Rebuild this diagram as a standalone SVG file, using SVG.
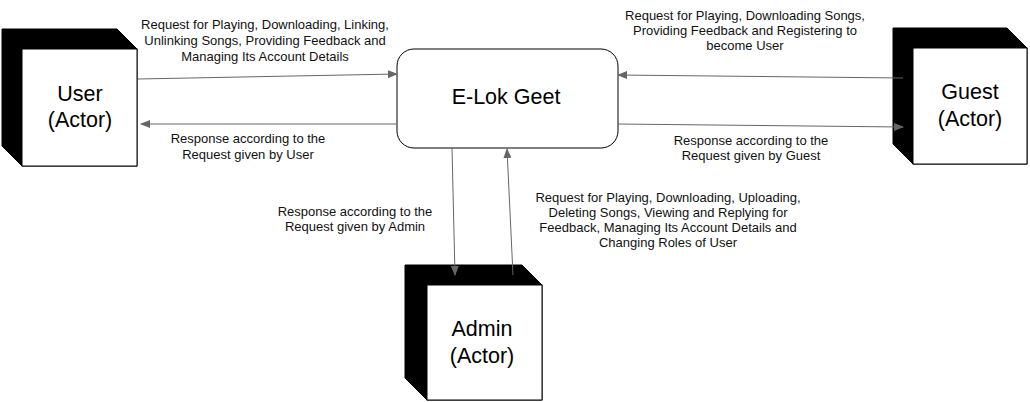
<svg xmlns="http://www.w3.org/2000/svg" width="1030" height="402" viewBox="0 0 1030 402">
<style>
.back{fill:#000;stroke:#000;stroke-width:1}
.face{fill:#fff;stroke:#000;stroke-width:1}
.big{font-family:"Liberation Sans",Arial,sans-serif;font-size:21.5px;fill:#000;text-anchor:middle}
.lbl{font-family:"Liberation Sans",Arial,sans-serif;font-size:13px;fill:#111;text-anchor:middle}
.conn{stroke:#666;stroke-width:1;fill:none;marker-end:url(#ah)}
</style>
<defs>
<marker id="ah" markerWidth="10" markerHeight="8" refX="9" refY="4" orient="auto" markerUnits="userSpaceOnUse">
<path d="M0,0 L10,4 L0,8 Z" fill="#666"/>
</marker>
</defs>
<rect width="1030" height="402" fill="#fff"/>
<g id="user">
<polygon class="back" points="2,29 117,29 137,49 137,166 22,166 2,146"/>
<rect class="face" x="22" y="49" width="115" height="117"/>
<text class="big" x="80" y="101">User</text>
<text class="big" x="80" y="127">(Actor)</text>
</g>
<g id="guest">
<polygon class="back" points="893,28 1007,28 1027,48 1027,164 913,164 893,144"/>
<rect class="face" x="913" y="48" width="114" height="116"/>
<text class="big" x="970" y="99">Guest</text>
<text class="big" x="970" y="126">(Actor)</text>
</g>
<g id="admin">
<polygon class="back" points="405,265 522,265 542,285 542,400 427,400 405,378"/>
<rect class="face" x="427" y="285" width="115" height="115"/>
<text class="big" x="482" y="336">Admin</text>
<text class="big" x="482" y="363">(Actor)</text>
</g>
<g id="system">
<rect class="face" x="397" y="49" width="221" height="99" rx="17" ry="17"/>
<text class="big" x="506" y="104">E-Lok Geet</text>
</g>
<g id="connectors">
<line class="conn" x1="138" y1="79" x2="397" y2="74"/>
<line class="conn" x1="397" y1="124" x2="141" y2="124"/>
<line class="conn" x1="903" y1="78" x2="618" y2="75"/>
<line class="conn" x1="618" y1="124" x2="903" y2="127"/>
<line class="conn" x1="452" y1="148" x2="455" y2="275"/>
<line class="conn" x1="513" y1="275" x2="507" y2="149"/>
</g>
<g id="labels">
<text class="lbl" x="265" y="29">Request for Playing, Downloading, Linking,</text>
<text class="lbl" x="265" y="45">Unlinking Songs, Providing Feedback and</text>
<text class="lbl" x="265" y="61">Managing Its Account Details</text>
<text class="lbl" x="248" y="143">Response according to the</text>
<text class="lbl" x="248" y="159">Request given by User</text>
<text class="lbl" x="745" y="20">Request for Playing, Downloading Songs,</text>
<text class="lbl" x="745" y="35">Providing Feedback and Registering to</text>
<text class="lbl" x="745" y="50">become User</text>
<text class="lbl" x="751" y="145">Response according to the</text>
<text class="lbl" x="751" y="160">Request given by Guest</text>
<text class="lbl" x="355" y="216">Response according to the</text>
<text class="lbl" x="355" y="231">Request given by Admin</text>
<text class="lbl" x="668" y="202">Request for Playing, Downloading, Uploading,</text>
<text class="lbl" x="668" y="217">Deleting Songs, Viewing and Replying for</text>
<text class="lbl" x="668" y="232">Feedback, Managing Its Account Details and</text>
<text class="lbl" x="668" y="247">Changing Roles of User</text>
</g>
</svg>
